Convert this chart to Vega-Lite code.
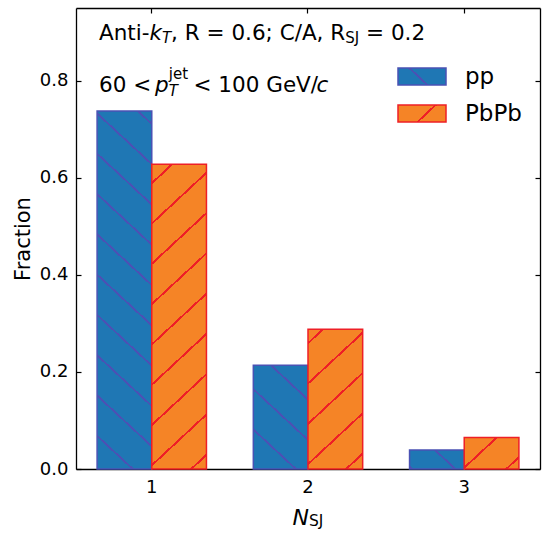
{
  "$schema": "https://vega.github.io/schema/vega-lite/v6.json",
  "width": 464,
  "height": 461,
  "autosize": {"type": "none"},
  "padding": {"left": 76, "top": 8, "right": 10, "bottom": 64},
  "config": {
    "font": "DejaVu Sans",
    "view": {"stroke": null},
    "axis": {
      "labelFont": "DejaVu Sans", "titleFont": "DejaVu Sans",
      "labelColor": "black", "titleColor": "black",
      "tickColor": "black", "domainColor": "black",
      "tickSize": -5, "tickWidth": 1.2, "domainWidth": 1.3,
      "grid": false, "labelFontSize": 18, "zindex": 1
    }
  },
  "datasets": {
    "fractions": [
      {"N": 1, "group": "pp", "fraction": 0.738},
      {"N": 2, "group": "pp", "fraction": 0.214},
      {"N": 3, "group": "pp", "fraction": 0.039},
      {"N": 1, "group": "PbPb", "fraction": 0.628},
      {"N": 2, "group": "PbPb", "fraction": 0.288},
      {"N": 3, "group": "PbPb", "fraction": 0.065}
    ]
  },
  "layer": [
    {
      "data": {"name": "fractions"},
      "mark": {"type": "bar", "strokeWidth": 1.5},
      "encoding": {
        "x": {
          "field": "N", "type": "ordinal",
          "scale": {"type": "band", "domain": [1, 2, 3], "paddingInner": 0.3, "paddingOuter": 0.135},
          "axis": {"orient": "bottom", "title": null, "labelAngle": 0, "labelPadding": 14}
        },
        "xOffset": {
          "field": "group", "type": "nominal",
          "scale": {"domain": ["pp", "PbPb"], "paddingInner": 0, "paddingOuter": 0}
        },
        "y": {
          "field": "fraction", "type": "quantitative",
          "scale": {"domain": [0, 0.95], "nice": false},
          "axis": {
            "orient": "left", "values": [0, 0.2, 0.4, 0.6, 0.8], "format": ".1f",
            "labelPadding": 13, "title": "Fraction", "titleFontSize": 21,
            "titleFontWeight": "normal", "titleAngle": -90, "titleX": -47, "titleY": 230.5,
            "titleBaseline": "alphabetic", "titleAlign": "center"
          }
        },
        "stroke": {
          "field": "group", "type": "nominal",
          "scale": {"domain": ["pp", "PbPb"], "range": ["#4a52b4", "#ee1f26"]},
          "legend": {
            "title": null, "orient": "none", "legendX": 321, "legendY": 43.5,
            "symbolType": "M-1,-0.354H1V0.354H-1Z", "symbolSize": 2304,
            "symbolStrokeWidth": 1.5, "symbolOpacity": 1,
            "labelFontSize": 23, "labelOffset": 18, "labelColor": "black", "labelFont": "DejaVu Sans",
            "rowPadding": -13, "padding": 0
          }
        },
        "fill": {
          "field": "group", "type": "nominal",
          "scale": {
            "domain": ["pp", "PbPb"],
            "range": [
              {"expr": "{gradient: 'linear', x1: 0, y1: 1, x2: 1.206, y2: 0.5407, stops: [{offset: 0, color: '#1f77b4'}, {offset: 0.4249, color: '#1f77b4'}, {offset: 0.4249, color: '#4a52b4'}, {offset: 0.4671, color: '#4a52b4'}, {offset: 0.4671, color: '#1f77b4'}, {offset: 1, color: '#1f77b4'}]}"},
              {"expr": "{gradient: 'linear', x1: 0, y1: 0, x2: 1.206, y2: 0.4593, stops: [{offset: 0, color: '#f58426'}, {offset: 0.5469, color: '#f58426'}, {offset: 0.5469, color: '#ee1f26'}, {offset: 0.5891, color: '#ee1f26'}, {offset: 0.5891, color: '#f58426'}, {offset: 1, color: '#f58426'}]}"}
            ]
          },
          "legend": {
            "title": null, "orient": "none", "legendX": 321, "legendY": 43.5,
            "symbolType": "M-1,-0.354H1V0.354H-1Z", "symbolSize": 2304,
            "symbolStrokeWidth": 1.5, "symbolOpacity": 1,
            "labelFontSize": 23, "labelOffset": 18, "labelColor": "black", "labelFont": "DejaVu Sans",
            "rowPadding": -13, "padding": 0
          },
          "condition": [
            {"test": "datum.group === 'pp' && datum.N === 1", "value": {"gradient": "linear", "x1": 0, "y1": 1, "x2": 0.15895, "y2": -0.1194, "stops": [
              {"offset": 0, "color": "#1f77b4"},
              {"offset": 0.0780, "color": "#1f77b4"}, {"offset": 0.0780, "color": "#4a52b4"}, {"offset": 0.0844, "color": "#4a52b4"}, {"offset": 0.0844, "color": "#1f77b4"},
              {"offset": 0.1766, "color": "#1f77b4"}, {"offset": 0.1766, "color": "#4a52b4"}, {"offset": 0.1830, "color": "#4a52b4"}, {"offset": 0.1830, "color": "#1f77b4"},
              {"offset": 0.2751, "color": "#1f77b4"}, {"offset": 0.2751, "color": "#4a52b4"}, {"offset": 0.2815, "color": "#4a52b4"}, {"offset": 0.2815, "color": "#1f77b4"},
              {"offset": 0.3737, "color": "#1f77b4"}, {"offset": 0.3737, "color": "#4a52b4"}, {"offset": 0.3801, "color": "#4a52b4"}, {"offset": 0.3801, "color": "#1f77b4"},
              {"offset": 0.4722, "color": "#1f77b4"}, {"offset": 0.4722, "color": "#4a52b4"}, {"offset": 0.4786, "color": "#4a52b4"}, {"offset": 0.4786, "color": "#1f77b4"},
              {"offset": 0.5707, "color": "#1f77b4"}, {"offset": 0.5707, "color": "#4a52b4"}, {"offset": 0.5771, "color": "#4a52b4"}, {"offset": 0.5771, "color": "#1f77b4"},
              {"offset": 0.6693, "color": "#1f77b4"}, {"offset": 0.6693, "color": "#4a52b4"}, {"offset": 0.6757, "color": "#4a52b4"}, {"offset": 0.6757, "color": "#1f77b4"},
              {"offset": 0.7678, "color": "#1f77b4"}, {"offset": 0.7678, "color": "#4a52b4"}, {"offset": 0.7742, "color": "#4a52b4"}, {"offset": 0.7742, "color": "#1f77b4"},
              {"offset": 0.8664, "color": "#1f77b4"}, {"offset": 0.8664, "color": "#4a52b4"}, {"offset": 0.8728, "color": "#4a52b4"}, {"offset": 0.8728, "color": "#1f77b4"},
              {"offset": 0.9649, "color": "#1f77b4"}, {"offset": 0.9649, "color": "#4a52b4"}, {"offset": 0.9713, "color": "#4a52b4"}, {"offset": 0.9713, "color": "#1f77b4"},
              {"offset": 1, "color": "#1f77b4"}]}},
            {"test": "datum.group === 'pp' && datum.N === 2", "value": {"gradient": "linear", "x1": 0, "y1": 1, "x2": 0.5883, "y2": -0.2016, "stops": [
              {"offset": 0, "color": "#1f77b4"},
              {"offset": 0.2473, "color": "#1f77b4"}, {"offset": 0.2473, "color": "#4a52b4"}, {"offset": 0.2641, "color": "#4a52b4"}, {"offset": 0.2641, "color": "#1f77b4"},
              {"offset": 0.5078, "color": "#1f77b4"}, {"offset": 0.5078, "color": "#4a52b4"}, {"offset": 0.5246, "color": "#4a52b4"}, {"offset": 0.5246, "color": "#1f77b4"},
              {"offset": 0.7683, "color": "#1f77b4"}, {"offset": 0.7683, "color": "#4a52b4"}, {"offset": 0.7851, "color": "#4a52b4"}, {"offset": 0.7851, "color": "#1f77b4"},
              {"offset": 1, "color": "#1f77b4"}]}},
            {"test": "datum.group === 'pp' && datum.N === 3", "value": {"gradient": "linear", "x1": 0, "y1": 1, "x2": 1.2053, "y2": 0.5513, "stops": [
              {"offset": 0, "color": "#1f77b4"},
              {"offset": 0.0148, "color": "#1f77b4"}, {"offset": 0.0148, "color": "#4a52b4"}, {"offset": 0.0520, "color": "#4a52b4"}, {"offset": 0.0520, "color": "#1f77b4"},
              {"offset": 0.5923, "color": "#1f77b4"}, {"offset": 0.5923, "color": "#4a52b4"}, {"offset": 0.6295, "color": "#4a52b4"}, {"offset": 0.6295, "color": "#1f77b4"},
              {"offset": 1, "color": "#1f77b4"}]}},
            {"test": "datum.group === 'PbPb' && datum.N === 1", "value": {"gradient": "linear", "x1": 0, "y1": 0, "x2": 0.18943, "y2": 1.13525, "stops": [
              {"offset": 0, "color": "#f58426"},
              {"offset": 0.0497, "color": "#f58426"}, {"offset": 0.0497, "color": "#ee1f26"}, {"offset": 0.0571, "color": "#ee1f26"}, {"offset": 0.0571, "color": "#f58426"},
              {"offset": 0.1631, "color": "#f58426"}, {"offset": 0.1631, "color": "#ee1f26"}, {"offset": 0.1705, "color": "#ee1f26"}, {"offset": 0.1705, "color": "#f58426"},
              {"offset": 0.2764, "color": "#f58426"}, {"offset": 0.2764, "color": "#ee1f26"}, {"offset": 0.2838, "color": "#ee1f26"}, {"offset": 0.2838, "color": "#f58426"},
              {"offset": 0.3897, "color": "#f58426"}, {"offset": 0.3897, "color": "#ee1f26"}, {"offset": 0.3971, "color": "#ee1f26"}, {"offset": 0.3971, "color": "#f58426"},
              {"offset": 0.5031, "color": "#f58426"}, {"offset": 0.5031, "color": "#ee1f26"}, {"offset": 0.5105, "color": "#ee1f26"}, {"offset": 0.5105, "color": "#f58426"},
              {"offset": 0.6164, "color": "#f58426"}, {"offset": 0.6164, "color": "#ee1f26"}, {"offset": 0.6238, "color": "#ee1f26"}, {"offset": 0.6238, "color": "#f58426"},
              {"offset": 0.7297, "color": "#f58426"}, {"offset": 0.7297, "color": "#ee1f26"}, {"offset": 0.7371, "color": "#ee1f26"}, {"offset": 0.7371, "color": "#f58426"},
              {"offset": 0.8430, "color": "#f58426"}, {"offset": 0.8430, "color": "#ee1f26"}, {"offset": 0.8504, "color": "#ee1f26"}, {"offset": 0.8504, "color": "#f58426"},
              {"offset": 0.9564, "color": "#f58426"}, {"offset": 0.9564, "color": "#ee1f26"}, {"offset": 0.9638, "color": "#ee1f26"}, {"offset": 0.9638, "color": "#f58426"},
              {"offset": 1, "color": "#f58426"}]}},
            {"test": "datum.group === 'PbPb' && datum.N === 2", "value": {"gradient": "linear", "x1": 0, "y1": 0, "x2": 0.43821, "y2": 1.2044, "stops": [
              {"offset": 0, "color": "#f58426"},
              {"offset": 0.0666, "color": "#f58426"}, {"offset": 0.0666, "color": "#ee1f26"}, {"offset": 0.0802, "color": "#ee1f26"}, {"offset": 0.0802, "color": "#f58426"},
              {"offset": 0.2781, "color": "#f58426"}, {"offset": 0.2781, "color": "#ee1f26"}, {"offset": 0.2917, "color": "#ee1f26"}, {"offset": 0.2917, "color": "#f58426"},
              {"offset": 0.4895, "color": "#f58426"}, {"offset": 0.4895, "color": "#ee1f26"}, {"offset": 0.5031, "color": "#ee1f26"}, {"offset": 0.5031, "color": "#f58426"},
              {"offset": 0.7009, "color": "#f58426"}, {"offset": 0.7009, "color": "#ee1f26"}, {"offset": 0.7145, "color": "#ee1f26"}, {"offset": 0.7145, "color": "#f58426"},
              {"offset": 0.9124, "color": "#f58426"}, {"offset": 0.9124, "color": "#ee1f26"}, {"offset": 0.9260, "color": "#ee1f26"}, {"offset": 0.9260, "color": "#f58426"},
              {"offset": 1, "color": "#f58426"}]}},
            {"test": "datum.group === 'PbPb' && datum.N === 3", "value": {"gradient": "linear", "x1": 0, "y1": 0, "x2": 1.1701, "y2": 0.72576, "stops": [
              {"offset": 0, "color": "#f58426"},
              {"offset": 0.3520, "color": "#f58426"}, {"offset": 0.3520, "color": "#ee1f26"}, {"offset": 0.3836, "color": "#ee1f26"}, {"offset": 0.3836, "color": "#f58426"},
              {"offset": 0.8411, "color": "#f58426"}, {"offset": 0.8411, "color": "#ee1f26"}, {"offset": 0.8727, "color": "#ee1f26"}, {"offset": 0.8727, "color": "#f58426"},
              {"offset": 1, "color": "#f58426"}]}}
          ]
        }
      }
    },
    {
      "data": {"name": "fractions"},
      "mark": {"type": "bar", "opacity": 0},
      "encoding": {
        "x": {"field": "N", "type": "ordinal", "axis": {"orient": "top", "labels": false, "title": null}},
        "xOffset": {"field": "group", "type": "nominal"},
        "y": {"field": "fraction", "type": "quantitative", "axis": {"orient": "right", "labels": false, "title": null, "values": [0, 0.2, 0.4, 0.6, 0.8]}}
      }
    },
    {
      "data": {"values": [{}]},
      "mark": {"type": "text", "text": "Anti-", "align": "left", "fontSize": 21.5, "dx": -52.77, "fill": "black"},
      "encoding": {"x": {"datum": 1, "type": "ordinal", "axis": null}, "y": {"datum": 0.8964, "type": "quantitative", "axis": null}}
    },
    {
      "data": {"values": [{}]},
      "mark": {"type": "text", "text": "k", "align": "left", "fontSize": 21.5, "fontStyle": "italic", "dx": -2.27, "fill": "black"},
      "encoding": {"x": {"datum": 1, "type": "ordinal", "axis": null}, "y": {"datum": 0.8964, "type": "quantitative", "axis": null}}
    },
    {
      "data": {"values": [{}]},
      "mark": {"type": "text", "text": "T", "align": "left", "fontSize": 15, "fontStyle": "italic", "dx": 10.18, "dy": 4, "fill": "black"},
      "encoding": {"x": {"datum": 1, "type": "ordinal", "axis": null}, "y": {"datum": 0.8964, "type": "quantitative", "axis": null}}
    },
    {
      "data": {"values": [{}]},
      "mark": {"type": "text", "text": ", R = 0.6; C/A, R", "align": "left", "fontSize": 21.5, "dx": 19.33, "fill": "black"},
      "encoding": {"x": {"datum": 1, "type": "ordinal", "axis": null}, "y": {"datum": 0.8964, "type": "quantitative", "axis": null}}
    },
    {
      "data": {"values": [{}]},
      "mark": {"type": "text", "text": "SJ", "align": "left", "fontSize": 15, "dx": 193.53, "dy": 4, "fill": "black"},
      "encoding": {"x": {"datum": 1, "type": "ordinal", "axis": null}, "y": {"datum": 0.8964, "type": "quantitative", "axis": null}}
    },
    {
      "data": {"values": [{}]},
      "mark": {"type": "text", "text": "= 0.2", "align": "left", "fontSize": 21.5, "dx": 214.27, "fill": "black"},
      "encoding": {"x": {"datum": 1, "type": "ordinal", "axis": null}, "y": {"datum": 0.8964, "type": "quantitative", "axis": null}}
    },
    {
      "data": {"values": [{}]},
      "mark": {"type": "text", "text": "60 <", "align": "left", "fontSize": 21.5, "dx": -52.77, "fill": "black"},
      "encoding": {"x": {"datum": 1, "type": "ordinal", "axis": null}, "y": {"datum": 0.7893, "type": "quantitative", "axis": null}}
    },
    {
      "data": {"values": [{}]},
      "mark": {"type": "text", "text": "p", "align": "left", "fontSize": 21.5, "fontStyle": "italic", "dx": 3.33, "fill": "black"},
      "encoding": {"x": {"datum": 1, "type": "ordinal", "axis": null}, "y": {"datum": 0.7893, "type": "quantitative", "axis": null}}
    },
    {
      "data": {"values": [{}]},
      "mark": {"type": "text", "text": "jet", "align": "left", "fontSize": 15, "dx": 17.03, "dy": -12, "fill": "black"},
      "encoding": {"x": {"datum": 1, "type": "ordinal", "axis": null}, "y": {"datum": 0.7893, "type": "quantitative", "axis": null}}
    },
    {
      "data": {"values": [{}]},
      "mark": {"type": "text", "text": "T", "align": "left", "fontSize": 15, "fontStyle": "italic", "dx": 17.03, "dy": 5, "fill": "black"},
      "encoding": {"x": {"datum": 1, "type": "ordinal", "axis": null}, "y": {"datum": 0.7893, "type": "quantitative", "axis": null}}
    },
    {
      "data": {"values": [{}]},
      "mark": {"type": "text", "text": "< 100 GeV/", "align": "left", "fontSize": 21.5, "dx": 41.73, "fill": "black"},
      "encoding": {"x": {"datum": 1, "type": "ordinal", "axis": null}, "y": {"datum": 0.7893, "type": "quantitative", "axis": null}}
    },
    {
      "data": {"values": [{}]},
      "mark": {"type": "text", "text": "c", "align": "left", "fontSize": 21.5, "fontStyle": "italic", "dx": 164.83, "fill": "black"},
      "encoding": {"x": {"datum": 1, "type": "ordinal", "axis": null}, "y": {"datum": 0.7893, "type": "quantitative", "axis": null}}
    },
    {
      "data": {"values": [{}]},
      "mark": {"type": "text", "text": "N", "align": "left", "fontSize": 22, "fontStyle": "italic", "dx": -15.5, "fill": "black"},
      "encoding": {"x": {"datum": 2, "type": "ordinal", "axis": null}, "y": {"datum": -0.101, "type": "quantitative", "axis": null}}
    },
    {
      "data": {"values": [{}]},
      "mark": {"type": "text", "text": "SJ", "align": "left", "fontSize": 15.5, "dx": 1.0, "dy": 3, "fill": "black"},
      "encoding": {"x": {"datum": 2, "type": "ordinal", "axis": null}, "y": {"datum": -0.101, "type": "quantitative", "axis": null}}
    }
  ],
  "resolve": {"axis": {"x": "independent", "y": "independent"}}
}
